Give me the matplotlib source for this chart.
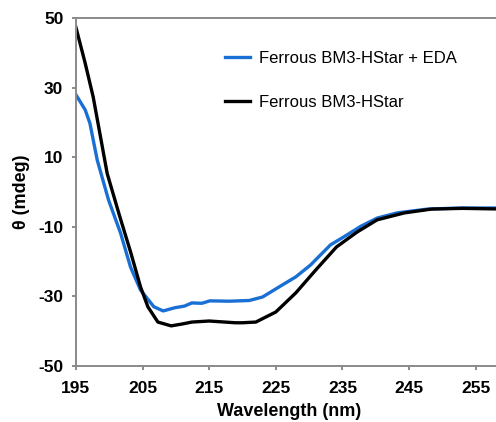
import numpy as np
import matplotlib.pyplot as plt

plt.rcParams['font.family'] = ['Liberation Sans', 'DejaVu Sans']
plt.rcParams['axes.unicode_minus'] = False

# CD spectra
wl_eda = [195, 196.4, 197.1, 198.2, 199.9, 201.7, 203.2, 204.7, 206.7, 208.1, 209.8,
          211.3, 212.4, 213.9, 215.1, 218, 221, 223, 226, 228, 230.2, 233.2, 235.2,
          237.8, 240.2, 243.2, 247.8, 253, 259]
theta_eda = [28, 23.6, 19.8, 9.2, -2.3, -11.8, -21.6, -28.2, -33, -34.2, -33.3,
             -32.8, -31.9, -32, -31.3, -31.4, -31.2, -30.2, -26.7, -24.4, -21, -15.2, -12.9,
             -9.8, -7.5, -6, -4.9, -4.6, -4.6]

wl_free = [195, 196.4, 197.6, 199.7, 201.5, 203.2, 204.7, 205.8, 207.3, 209.3, 211.1,
           212.4, 215, 218.9, 220, 222, 225, 228, 231, 234.1, 237.2, 240.2, 244.3,
           248.4, 253, 259]
theta_free = [47.4, 37, 27.3, 5.3, -6.5, -17.2, -27.3, -33, -37.4, -38.5, -37.9,
              -37.4, -37.1, -37.6, -37.6, -37.4, -34.5, -29, -22.4, -15.8, -11.5, -8, -6,
              -4.9, -4.7, -4.9]

labels = ['Ferrous BM3-HStar + EDA', 'Ferrous BM3-HStar']
xticks = [195, 205, 215, 225, 235, 245, 255]
yticks = [-50, -30, -10, 10, 30, 50]

fig = plt.figure(figsize=(4.96, 4.22), dpi=100)
ax = fig.add_axes([0.153, 0.133, 0.86, 0.824])

ax.plot(wl_eda, theta_eda, color='#1a6fd4', lw=2.4, label=labels[0])
ax.plot(wl_free, theta_free, color='black', lw=2.4, label=labels[1])

ax.set_xlim(195, 259)
ax.set_ylim(-50, 50)
ax.set_xticks(xticks)
ax.set_yticks(yticks)
for s in ['left', 'bottom', 'top', 'right']:
    ax.spines[s].set_color('#8a8a8a')
    ax.spines[s].set_linewidth(1.4)
ax.tick_params(color='#8a8a8a', width=1.4, length=3, labelsize=12.5)
ax.tick_params(axis='x', pad=8)
ax.tick_params(axis='y', pad=6)
for t in ax.get_xticklabels() + ax.get_yticklabels():
    t.set_fontweight('bold')

ax.set_xlabel('Wavelength (nm)', fontsize=13, fontweight='bold', labelpad=5)
ax.set_ylabel('θ (mdeg)', fontsize=13, fontweight='bold', labelpad=6)

ax.legend(loc='upper left', bbox_to_anchor=(0.315, 0.95), frameon=False,
          fontsize=12, labelspacing=1.75, handlelength=1.5, handletextpad=0.5)

fig.savefig('out.png', dpi=100)
